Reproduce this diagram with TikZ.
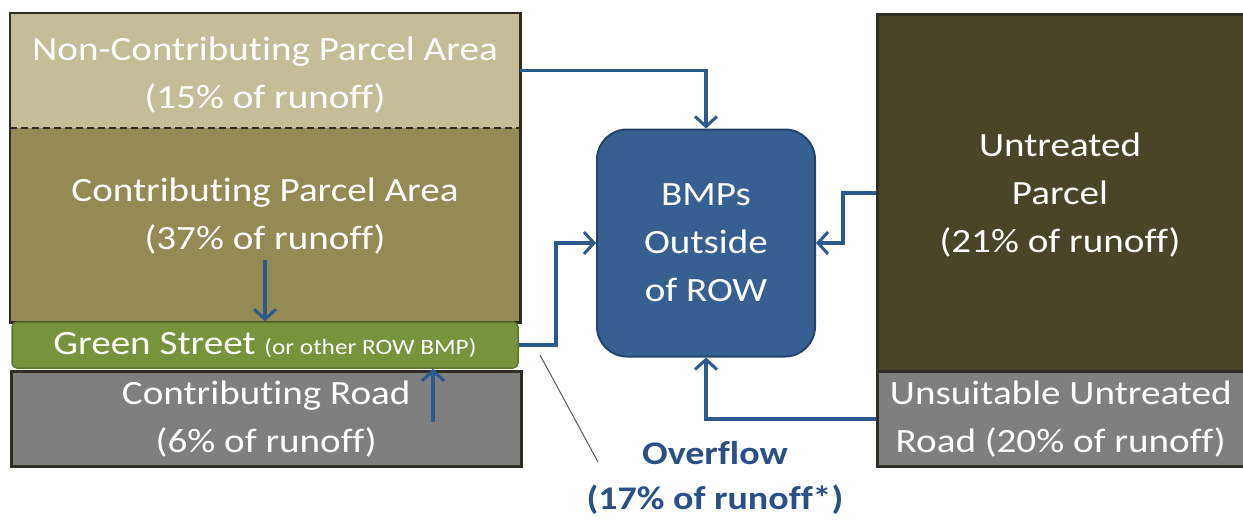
\documentclass[tikz,border=0pt]{standalone}
\usepackage{fontspec}
\setmainfont[FakeStretch=1.15,Ligatures=NoCommon]{Carlito}
\usetikzlibrary{arrows.meta,positioning}
\definecolor{flowblue}{HTML}{2C5A8E}
\definecolor{nonfill}{HTML}{C4BD97}
\definecolor{parcelfill}{HTML}{948A54}
\definecolor{streetfill}{HTML}{77933C}
\definecolor{streetedge}{HTML}{5E7530}
\definecolor{roadfill}{HTML}{7F7F7F}
\definecolor{untreatedfill}{HTML}{4A4428}
\definecolor{edgedark}{HTML}{2E2E24}
\definecolor{bmpfill}{HTML}{376092}
\definecolor{bmpedge}{HTML}{24446E}
\definecolor{overflowtext}{HTML}{2A5086}

\begin{document}
\begin{tikzpicture}[
  x=1pt,y=-1pt,
  >={Straight Barb[length=10pt,width=22pt,line width=3pt]},
  every node/.style={font=\fontsize{34}{48}\selectfont,text=white,align=center,inner sep=0pt},
  area/.style={anchor=north west,minimum width=510pt},
  rightarea/.style={anchor=north west,minimum width=367pt,draw=edgedark,line width=2.5pt},
  bmpbox/.style={fill=bmpfill,draw=bmpedge,line width=2pt,rounded corners=30pt,
    minimum width=218pt,minimum height=227pt},
  flow/.style={flowblue,line width=3.5pt},
  leader/.style={gray!70!black,line width=1pt}
]
  \useasboundingbox (0,0) rectangle (1243,522);

  % left stack
  \node[area,fill=nonfill,minimum height=115pt] (nparcel) at (10,13) {};
  \node (nparceltext) at (265,75) {Non-Contributing Parcel Area\\(15\% of runoff)};
  \node[area,fill=parcelfill,minimum height=194pt] (cparcel) at (10,128) {};
  \node (cparceltext) at (265,216) {Contributing Parcel Area\\(37\% of runoff)};
  \draw[edgedark,line width=2.5pt] (nparcel.north west) rectangle (cparcel.south east);
  \draw[edgedark,dash pattern=on 7pt off 4pt,line width=2pt] (nparcel.south west) -- (nparcel.south east);
  \node[area,fill=roadfill,draw=edgedark,line width=2.5pt,minimum height=95pt] (road) at (10,370)
    {Contributing Road\\(6\% of runoff)};
  \node[fill=streetfill,draw=streetedge,line width=1.5pt,rounded corners=5pt,minimum width=506pt,
    minimum height=46pt] (street) at (265,345)
    {Green Street {\fontsize{22}{24}\selectfont(or other ROW BMP)}};

  % right stack
  \node[rightarea,fill=untreatedfill,minimum height=357pt] (uparcel) at (876,13) {};
  \node (uparceltext) at (1060,195) {Untreated\\Parcel\\(21\% of runoff)};
  \node[rightarea,fill=roadfill,minimum height=95pt] (uroad) at (876,370)
    {Unsuitable Untreated\\Road (20\% of runoff)};

  % treatment
  \node[bmpbox] (bmp) at (706,243) {BMPs\\Outside\\of ROW};

  \draw[flow,->] (nparcel.east) -| (bmp.north);
  \draw[flow,->] (street.east) -- ++(37,0) |- (bmp.west);
  \draw[flow,->] (uparcel.west) -- ++(-33,0) |- (bmp.east);
  \draw[flow,->] (uroad.west) -| (bmp.south);
  \draw[flow,->] ([yshift=-6pt]cparceltext.south) -- (cparceltext.south |- street.north);
  \coordinate (roadin) at (433,422);
  \draw[flow,->] (roadin) -- (roadin |- street.south);

  % overflow note
  \coordinate (leadtop) at (540,355);
  \coordinate (leadend) at (598,462);
  \draw[leader] (leadtop) -- (leadend);
  \node[text=overflowtext,font=\fontsize{33}{45}\selectfont\bfseries] (overflow) at (715,478)
    {Overflow\\(17\% of runoff*)};
\end{tikzpicture}
\end{document}
